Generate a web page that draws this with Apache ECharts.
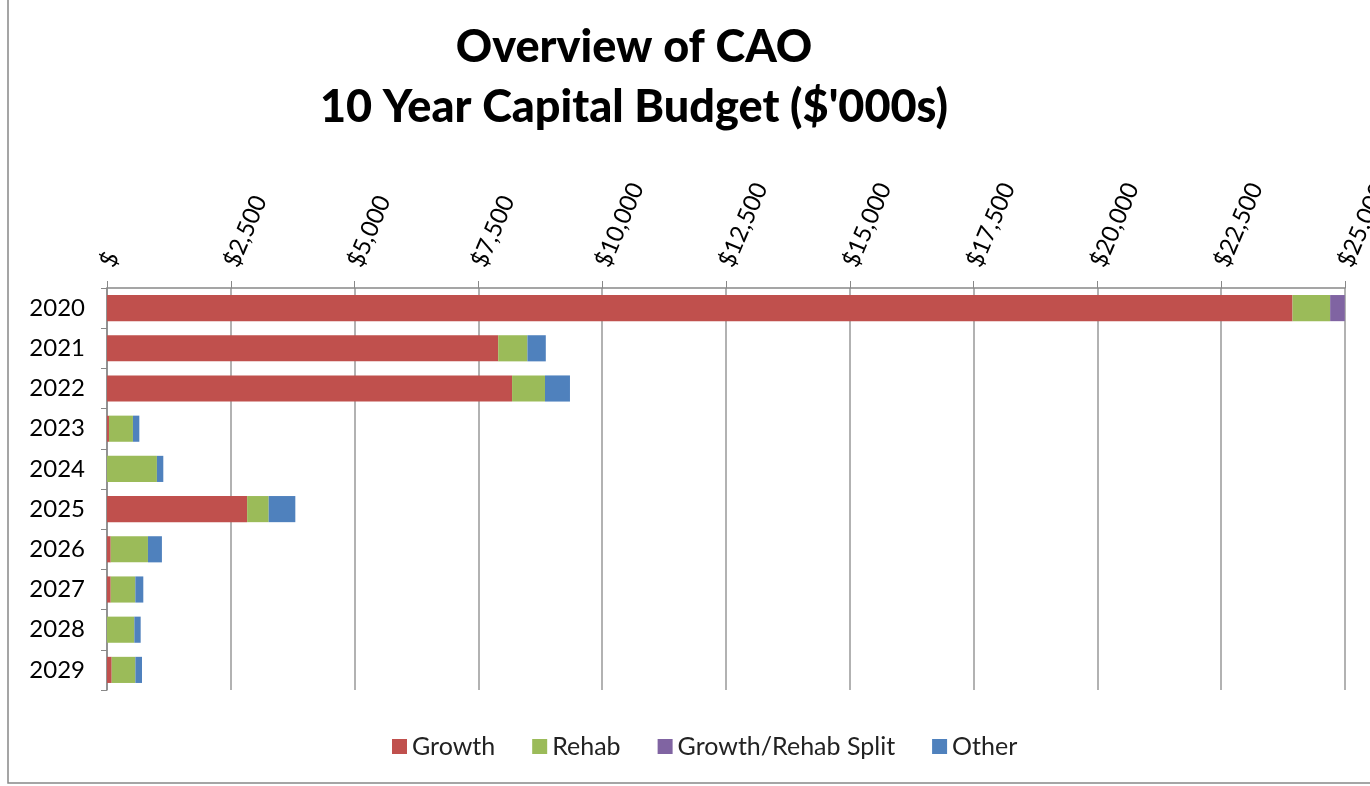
<!DOCTYPE html>
<html>
<head>
<meta charset="utf-8">
<script src="https://cdn.jsdelivr.net/npm/echarts@6/dist/echarts.min.js"></script>
<style>html,body{margin:0;padding:0;background:#fff;}#c{width:1370px;height:786px;}</style>
</head>
<body>
<div id="c"></div>
<script>
const years = ['2020','2021','2022','2023','2024','2025','2026','2027','2028','2029'];
const growth = [23940, 7900, 8180, 40, 0, 2830, 75, 75, 0, 95];
const rehab = [760, 590, 665, 484, 1008, 435, 752, 497, 552, 478];
const split = [296, 0, 0, 0, 0, 0, 0, 0, 0, 0];
const other = [0, 371, 504, 129, 129, 538, 282, 161, 128, 134];
const seriesNames = ['Growth', 'Rehab', 'Growth/Rehab Split', 'Other'];
const colors = ['#C0504D', '#9BBB59', '#8064A2', '#4F81BD'];
const font = 'Lato, "Open Sans", sans-serif';

const chart = echarts.init(document.getElementById('c'));
const dataSets = [growth, rehab, split, other];
chart.setOption({
  animation: false,
  color: colors,
  title: {
    text: "Overview of CAO\n10 Year Capital Budget ($'000s)",
    left: 629, top: 12, textAlign: 'center',
    textStyle: {fontFamily: font, fontSize: 45, fontWeight: 900, color: '#000', lineHeight: 60}
  },
  graphic: [{type: 'rect', shape: {x: 8, y: -5, width: 1400, height: 788}, style: {fill: 'none', stroke: '#888', lineWidth: 1.5}, silent: true}],
  legend: {
    bottom: 22, left: 387, itemWidth: 15, itemHeight: 15, itemGap: 37,
    icon: 'rect',
    textStyle: {fontFamily: font, fontSize: 25, color: '#222'},
    data: seriesNames
  },
  grid: {left: 107, right: 25, top: 288, bottom: 96, containLabel: false, outerBoundsMode: 'none'},
  xAxis: {
    type: 'value', position: 'top', min: 0, max: 25000, interval: 2500,
    axisLine: {show: true, lineStyle: {color: '#888', width: 1.5}},
    axisTick: {show: true, length: 7, lineStyle: {color: '#888'}},
    splitLine: {lineStyle: {color: '#999', width: 1.5}},
    axisLabel: {
      rotate: -67, margin: 22, fontFamily: font, fontSize: 24, color: '#000',
      formatter: v => v === 0 ? '$' : '$' + v.toLocaleString('en-US')
    }
  },
  yAxis: {
    type: 'category', data: years, inverse: true,
    axisLine: {lineStyle: {color: '#888', width: 1.5}},
    axisTick: {show: true, length: 6, lineStyle: {color: '#888'}},
    axisLabel: {fontFamily: font, fontSize: 24, color: '#000', margin: 22}
  },
  series: seriesNames.map((n, i) => ({
    name: n, type: 'bar', stack: 'total', data: dataSets[i],
    barCategoryGap: '35%'
  }))
});
</script>
</body>
</html>
